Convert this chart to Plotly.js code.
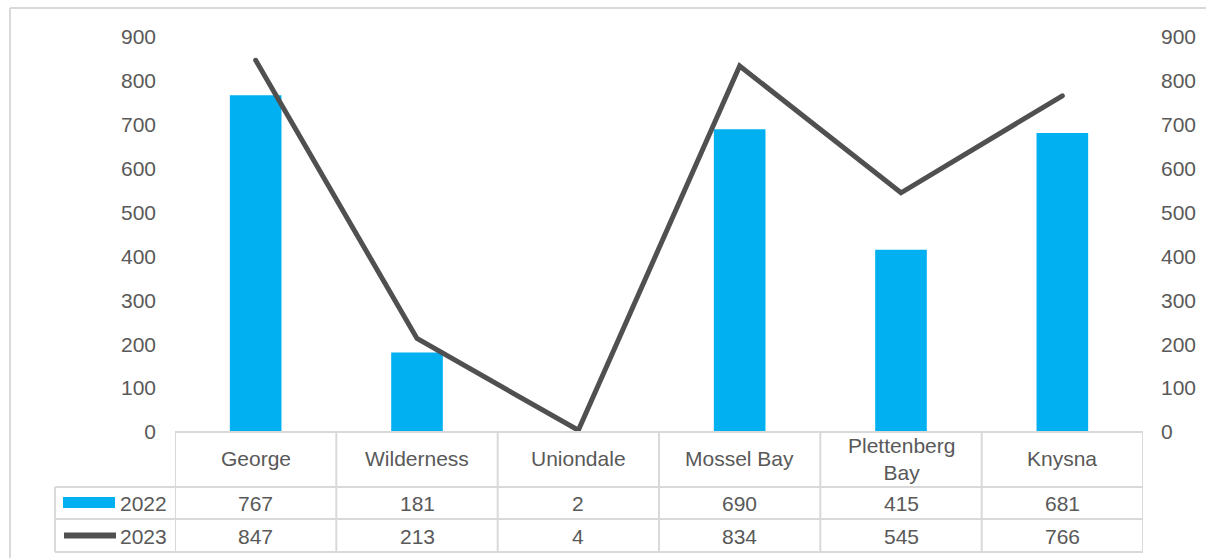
<!DOCTYPE html>
<html>
<head>
<meta charset="utf-8">
<script src="https://cdn.plot.ly/plotly-3.0.1.min.js"></script>
<style>
  html, body { margin: 0; padding: 0; background: #fff; }
  #chart { width: 1206px; height: 558px; }
  /* rounded ends on the 2023 series line */
  #chart .scatterlayer path.js-line { stroke-linecap: round; }
</style>
</head>
<body>
<div id="chart"></div>
<script>
// Towns along the Garden Route and their counts for two years
const categories = ['George', 'Wilderness', 'Uniondale', 'Mossel Bay', 'Plettenberg Bay', 'Knysna'];
const headerLabels = ['George', 'Wilderness', 'Uniondale', 'Mossel Bay', 'Plettenberg<br>Bay', 'Knysna'];
const values2022 = [767, 181, 2, 690, 415, 681];
const values2023 = [847, 213, 4, 834, 545, 766];
const seriesNames = ['2022', '2023'];
const yTicks = [0, 100, 200, 300, 400, 500, 600, 700, 800, 900];

const textColor = '#595959';
const gridColor = '#d9d9d9';
const barColor = '#00B0F0';
const lineColor = '#505050';
const fontFamily = 'Liberation Sans, Arial, sans-serif';
const fontSize = 21;

const W = 1206, H = 558;
const margin = { l: 175, r: 63, t: 37, b: 126 };
const plotW = W - margin.l - margin.r;
const plotH = H - margin.t - margin.b;

// pixel offsets (relative to the page) -> paper coordinates
const px2py = (yPx) => -(yPx - (H - margin.b)) / plotH;
const px2px = (xPx) => (xPx - margin.l) / plotW;

// data-table row boundaries (pixels from the top of the page)
const headerBottom = px2py(487);
const row1Bottom = px2py(519);
const row2Bottom = px2py(552);
const legendLeft = px2px(55);

const traces = [
  {
    type: 'bar', name: seriesNames[0], x: categories, y: values2022,
    marker: { color: barColor }, width: 0.32, yaxis: 'y', hoverinfo: 'skip'
  },
  {
    type: 'scatter', mode: 'lines', name: seriesNames[1], x: categories, y: values2023,
    line: { color: lineColor, width: 5 }, yaxis: 'y2', hoverinfo: 'skip'
  }
];

const shapes = [];
const lineStyle = { color: gridColor, width: 2 };
// category axis line, drawn over the bars
shapes.push({ type: 'line', xref: 'x', yref: 'paper', x0: -0.5, x1: categories.length - 0.5,
  y0: 0, y1: 0, line: lineStyle, layer: 'above' });
// table horizontal rules spanning the category columns
[headerBottom, row1Bottom, row2Bottom].forEach((y) => {
  shapes.push({ type: 'line', xref: 'x', yref: 'paper', x0: -0.5, x1: categories.length - 0.5,
    y0: y, y1: y, line: lineStyle, layer: 'below' });
});
// legend column rules
[headerBottom, row1Bottom, row2Bottom].forEach((y) => {
  shapes.push({ type: 'line', xref: 'paper', yref: 'paper', x0: legendLeft, x1: 0,
    y0: y, y1: y, line: lineStyle });
});
shapes.push({ type: 'line', xref: 'paper', yref: 'paper', x0: legendLeft, x1: legendLeft,
  y0: headerBottom, y1: row2Bottom, line: lineStyle });
// column separators
for (let k = 0; k <= categories.length; k++) {
  shapes.push({ type: 'line', xref: 'x', yref: 'paper', x0: k - 0.5, x1: k - 0.5,
    y0: 0, y1: row2Bottom, line: lineStyle });
}
// legend keys
shapes.push({ type: 'rect', xref: 'paper', yref: 'paper',
  x0: px2px(63), x1: px2px(115), y0: px2py(497), y1: px2py(508),
  fillcolor: barColor, line: { width: 0 } });
shapes.push({ type: 'line', xref: 'paper', yref: 'paper',
  x0: px2px(64), x1: px2px(116), y0: px2py(535.5), y1: px2py(535.5),
  line: { color: lineColor, width: 6 } });
// outer chart frame
shapes.push({ type: 'line', xref: 'paper', yref: 'paper',
  x0: px2px(10), x1: px2px(1210), y0: px2py(8), y1: px2py(8), line: lineStyle });
shapes.push({ type: 'line', xref: 'paper', yref: 'paper',
  x0: px2px(10), x1: px2px(10), y0: px2py(8), y1: px2py(562), line: lineStyle });

const annotations = [];
const font = { family: fontFamily, size: fontSize, color: textColor };
categories.forEach((c, i) => {
  annotations.push({ xref: 'x', yref: 'paper', x: c, y: px2py(459), text: headerLabels[i],
    showarrow: false, font, xanchor: 'center', yanchor: 'middle' });
  annotations.push({ xref: 'x', yref: 'paper', x: c, y: px2py(503), text: String(values2022[i]),
    showarrow: false, font, xanchor: 'center', yanchor: 'middle' });
  annotations.push({ xref: 'x', yref: 'paper', x: c, y: px2py(536), text: String(values2023[i]),
    showarrow: false, font, xanchor: 'center', yanchor: 'middle' });
});
annotations.push({ xref: 'paper', yref: 'paper', x: px2px(169), y: px2py(503), text: seriesNames[0],
  showarrow: false, font, xanchor: 'right', yanchor: 'middle' });
annotations.push({ xref: 'paper', yref: 'paper', x: px2px(169), y: px2py(536), text: seriesNames[1],
  showarrow: false, font, xanchor: 'right', yanchor: 'middle' });

const yAxisBase = {
  range: [0, 900], tickvals: yTicks, showgrid: false, zeroline: false, showline: false,
  ticks: '', tickfont: font, fixedrange: true
};

const layout = {
  width: W, height: H, margin, paper_bgcolor: '#fff', plot_bgcolor: 'rgba(0,0,0,0)',
  showlegend: false, font: { family: fontFamily, color: textColor },
  xaxis: { type: 'category', range: [-0.5, categories.length - 0.5], showticklabels: false,
    showgrid: false, zeroline: false, showline: false, ticks: '', fixedrange: true },
  yaxis: Object.assign({}, yAxisBase, { side: 'left', ticklabelstandoff: 18 }),
  yaxis2: Object.assign({}, yAxisBase, { side: 'right', overlaying: 'y', ticklabelstandoff: 17 }),
  shapes, annotations
};

Plotly.newPlot('chart', traces, layout, { staticPlot: true, displayModeBar: false });
</script>
</body>
</html>
